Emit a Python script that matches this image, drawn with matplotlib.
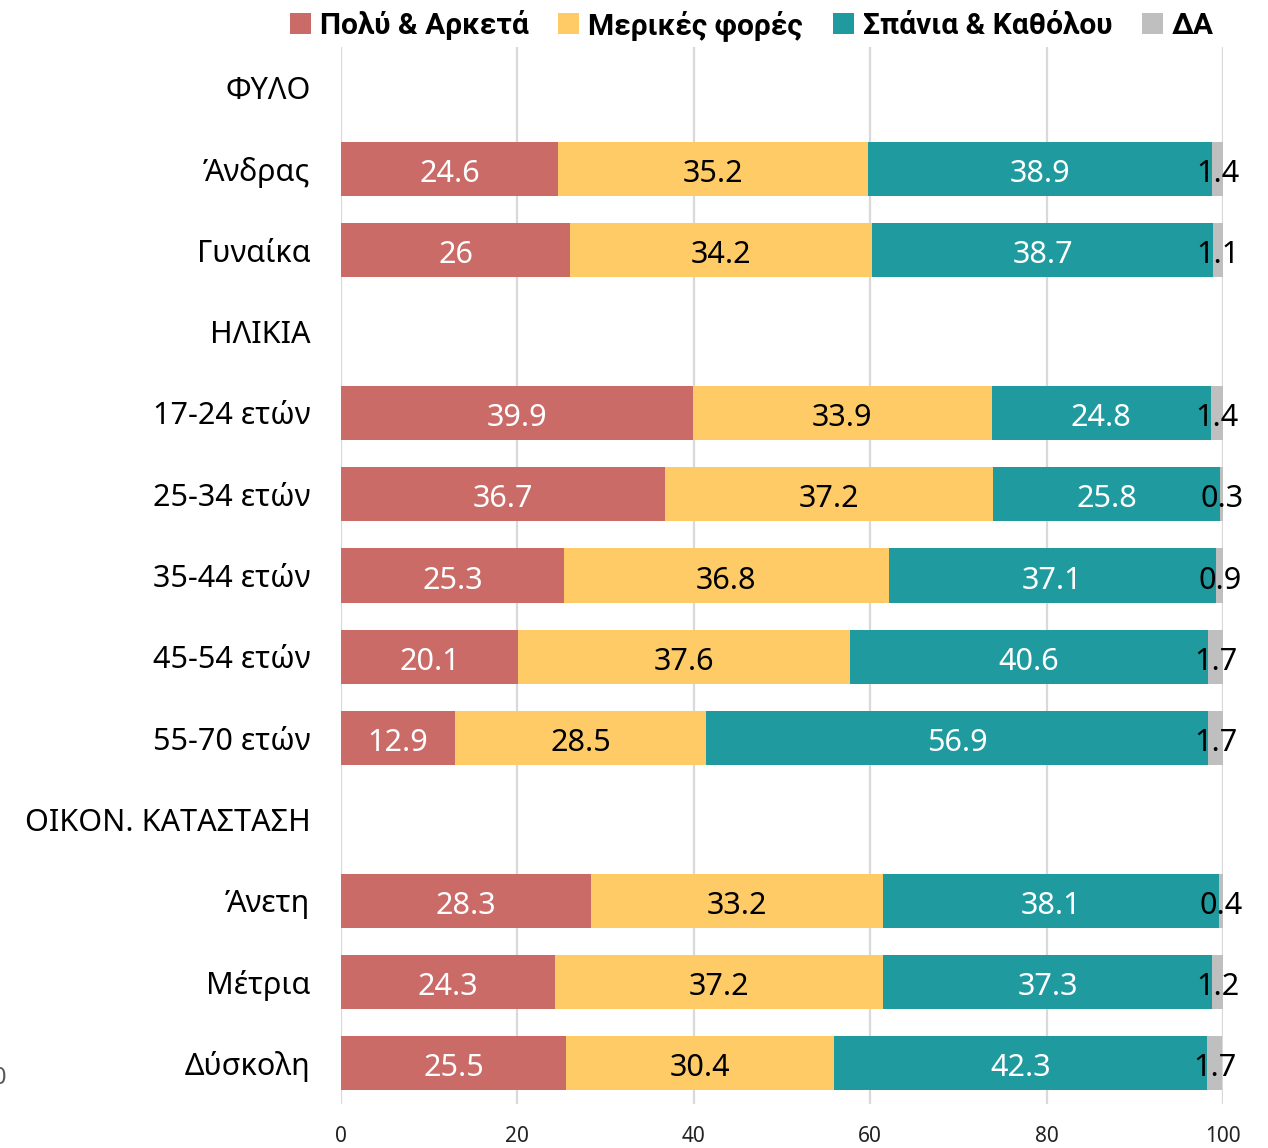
import matplotlib
matplotlib.use("Agg")
import matplotlib.pyplot as plt
import numpy as np

categories = ["ΦΥΛΟ", "Άνδρας", "Γυναίκα", "ΗΛΙΚΙΑ", "17-24 ετών", "25-34 ετών",
              "35-44 ετών", "45-54 ετών", "55-70 ετών", "ΟΙΚΟΝ. ΚΑΤΑΣΤΑΣΗ",
              "Άνετη", "Μέτρια", "Δύσκολη"]
series_names = ["Πολύ & Αρκετά", "Μερικές φορές", "Σπάνια & Καθόλου", "ΔΑ"]
polu = [None, 24.6, 26, None, 39.9, 36.7, 25.3, 20.1, 12.9, None, 28.3, 24.3, 25.5]
merikes = [None, 35.2, 34.2, None, 33.9, 37.2, 36.8, 37.6, 28.5, None, 33.2, 37.2, 30.4]
spania = [None, 38.9, 38.7, None, 24.8, 25.8, 37.1, 40.6, 56.9, None, 38.1, 37.3, 42.3]
da = [None, 1.4, 1.1, None, 1.4, 0.3, 0.9, 1.7, 1.7, None, 0.4, 1.2, 1.7]
xticks = [0, 20, 40, 60, 80, 100]

colors = ["#CA6B68", "#FECB66", "#1F9BA0", "#BFBFBF"]
text_colors = ["white", "black", "white", "black"]

plt.rcParams['font.family'] = ['Noto Sans', 'DejaVu Sans']

fig = plt.figure(figsize=(12.68, 11.48), dpi=100)
ax = fig.add_axes([341/1268, (1148-1104)/1148, 882/1268, (1104-47)/1148])

y = np.arange(len(categories))
left = np.zeros(len(categories))
series = [polu, merikes, spania, da]
handles = []
for s, (vals, c, tc, name) in enumerate(zip(series, colors, text_colors, series_names)):
    v = np.array([np.nan if x is None else x for x in vals], dtype=float)
    mask = ~np.isnan(v)
    h = ax.barh(y[mask], v[mask], left=left[mask], height=0.665, color=c, label=name, zorder=2)
    handles.append(h)
    for yi, vi, li in zip(y[mask], v[mask], left[mask]):
        ax.text(li + vi/2, yi + 0.02, f"{vi:g}", ha="center", va="center_baseline", color=tc,
                fontsize=22, zorder=3)
    left[mask] += v[mask]

ax.set_xlim(0, 100)
ax.set_ylim(len(categories) - 0.5, -0.5)
ax.set_xticks(xticks)
ax.set_xticklabels([str(t) for t in xticks], fontsize=15, color="#222222")
ax.set_yticks(y)
ax.set_yticklabels(categories, fontsize=22)
ax.tick_params(axis="both", length=0)
ax.tick_params(axis="y", pad=22)
ax.tick_params(axis="x", pad=16)
ax.xaxis.grid(True, color="#D9D9D9", linewidth=1.6, zorder=0)
ax.set_axisbelow(True)
for sp in ax.spines.values():
    sp.set_visible(False)

leg = fig.legend(handles=handles, labels=series_names, loc="upper center",
                 bbox_to_anchor=(752/1268, 1.015), ncol=4, frameon=False,
                 prop={"family": ["Roboto", "DejaVu Sans"], "weight": "bold", "size": 21.5},
                 handlelength=0.7, handleheight=0.7, handletextpad=0.3,
                 columnspacing=1.0)

fig.text(6/1268, 1 - 1078/1148, "0", ha="right", va="center", fontsize=17, color="#595959")

fig.savefig("out.png", dpi=100)
